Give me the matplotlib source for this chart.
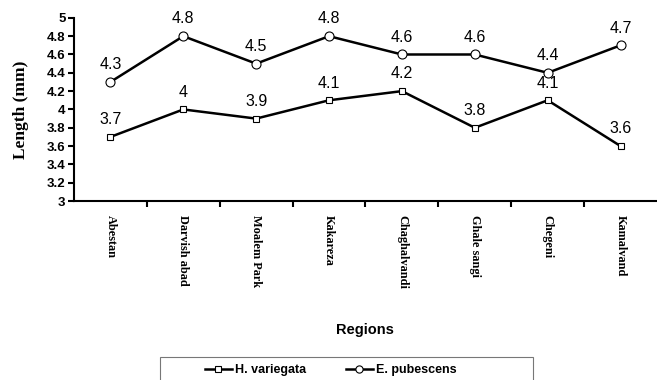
import matplotlib.pyplot as plt
from matplotlib.patches import Rectangle

regions = ["Abestan", "Darvish abad", "Moalem Park", "Kakareza",
           "Chaghalvandi", "Ghale sangi", "Chegeni", "Kamalvand"]
h_variegata = [3.7, 4.0, 3.9, 4.1, 4.2, 3.8, 4.1, 3.6]
e_pubescens = [4.3, 4.8, 4.5, 4.8, 4.6, 4.6, 4.4, 4.7]
h_labels = ["3.7", "4", "3.9", "4.1", "4.2", "3.8", "4.1", "3.6"]
e_labels = ["4.3", "4.8", "4.5", "4.8", "4.6", "4.6", "4.4", "4.7"]
yticks = [3, 3.2, 3.4, 3.6, 3.8, 4, 4.2, 4.4, 4.6, 4.8, 5]

fig = plt.figure(figsize=(6.57, 3.8), dpi=100)
ax = fig.add_axes([0.1126, 0.471, 0.8874, 0.482])

x = list(range(len(regions)))
ax.plot(x, h_variegata, color="black", lw=1.8, marker="s", ms=5,
        mfc="white", mec="black", mew=0.8, label="H. variegata")
ax.plot(x, e_pubescens, color="black", lw=1.8, marker="o", ms=6.5,
        mfc="white", mec="black", mew=0.8, label="E. pubescens")

for xi, v, s in zip(x, h_variegata, h_labels):
    ax.annotate(s, (xi, v), xytext=(0, 7), textcoords="offset points",
                ha="center", va="bottom", fontsize=11.5, family="Liberation Sans")
for xi, v, s in zip(x, e_pubescens, e_labels):
    ax.annotate(s, (xi, v), xytext=(0, 7), textcoords="offset points",
                ha="center", va="bottom", fontsize=11.5, family="Liberation Sans")

ax.set_xlim(-0.5, len(regions) - 0.5)
ax.set_ylim(3, 5)
ax.set_yticks(yticks)
ax.set_yticklabels([f"{t:g}" for t in yticks], fontsize=9.5, fontweight="bold",
                   family="Liberation Sans")

# ticks between categories, labels at the centres
ax.set_xticks([i + 0.5 for i in x[:-1]])
ax.set_xticklabels([])
ax.set_xticks(x, minor=True)
ax.set_xticklabels(regions, minor=True, rotation=-90, fontsize=8.8,
                   fontweight="bold", family="Liberation Serif", va="top")
ax.tick_params(axis="x", which="minor", length=0, pad=10)
ax.tick_params(axis="x", which="major", length=4, width=1.5, direction="out")
ax.tick_params(axis="y", length=4, width=1.5, direction="out", pad=2)

for side in ["top", "right"]:
    ax.spines[side].set_visible(False)
for side in ["left", "bottom"]:
    ax.spines[side].set_linewidth(1.5)

ax.set_ylabel("Length (mm)", fontsize=12.5, fontweight="bold",
              family="Liberation Serif", labelpad=1)
ax.yaxis.set_label_coords(-0.077, 0.5)
fig.text(0.556, 0.132, "Regions", ha="center", va="center", fontsize=10.5,
         fontweight="bold", family="Liberation Sans")

# legend box outline (wider than its entries)
fig.patches.append(Rectangle((160 / 657, -0.05), 373 / 657, 0.11,
                             transform=fig.transFigure, fill=False,
                             edgecolor="#777777", lw=0.8))
fig.legend(loc="center", bbox_to_anchor=(0.503, 0.026), ncol=2,
           frameon=False, handlelength=2.2, handletextpad=0.2,
           columnspacing=3.2, markerscale=0.8,
           prop={"family": "Liberation Sans", "weight": "bold", "size": 9})

fig.savefig("out.png", dpi=100)
